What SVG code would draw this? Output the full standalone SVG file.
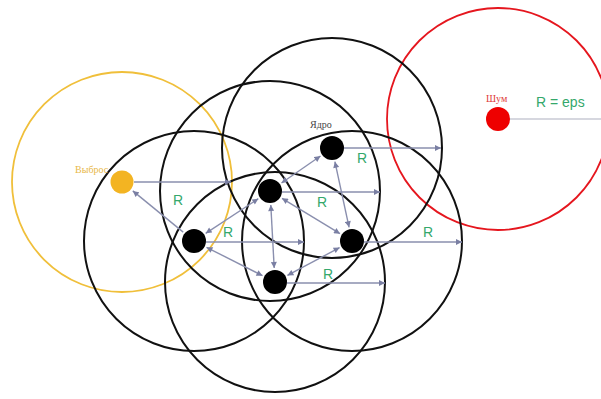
<svg xmlns="http://www.w3.org/2000/svg" width="601" height="399" viewBox="0 0 601 399">
<defs>
<marker id="ah" viewBox="0 0 10 10" refX="10" refY="5" markerUnits="userSpaceOnUse" markerWidth="7" markerHeight="6" orient="auto-start-reverse">
<path d="M0,0 L10,5 L0,10 z" fill="#7a7fa3"/>
</marker>
</defs>
<style>
.zone{fill:none;stroke:#111;stroke-width:2}
.arr{stroke:#8a8fae;stroke-width:1.4;fill:none}
.one{marker-end:url(#ah)}
.two{marker-start:url(#ah);marker-end:url(#ah)}
.core{fill:#000}
.lbl{font-family:"Liberation Serif","DejaVu Serif",serif;font-size:10px}
.r{font-family:"Liberation Sans",Arial,sans-serif;font-size:14px;fill:#35a86b;text-anchor:middle}
</style>
<rect width="601" height="399" fill="#fff"/>
<g id="zones">
<circle cx="122" cy="182" r="110" fill="none" stroke="#f0bf3a" stroke-width="1.8"/>
<circle cx="498" cy="119" r="111" fill="none" stroke="#e5161e" stroke-width="1.8"/>
<circle class="zone" cx="332" cy="148" r="110"/>
<circle class="zone" cx="270" cy="191" r="110"/>
<circle class="zone" cx="194" cy="241" r="110"/>
<circle class="zone" cx="352" cy="241" r="110"/>
<circle class="zone" cx="275" cy="282" r="110"/>
</g>
<g id="connectors">
<line class="arr one" x1="134" y1="182" x2="231" y2="182"/>
<line class="arr one" x1="344" y1="148" x2="441" y2="148"/>
<line class="arr one" x1="282" y1="192" x2="380" y2="192"/>
<line class="arr one" x1="206" y1="242" x2="304" y2="242"/>
<line class="arr one" x1="364" y1="242" x2="462" y2="242"/>
<line class="arr one" x1="287" y1="283" x2="385" y2="283"/>
<line x1="510" y1="119" x2="601" y2="119" stroke="#c8cad4" stroke-width="1.3"/>
<line class="arr one" x1="183.2" y1="232.1" x2="132.8" y2="190.9"/>
<line class="arr two" x1="205.7" y1="233.3" x2="258.3" y2="198.7"/>
<line class="arr two" x1="281.5" y1="183" x2="320.5" y2="156"/>
<line class="arr two" x1="270.8" y1="205" x2="274.2" y2="268"/>
<line class="arr two" x1="282" y1="198.3" x2="340" y2="233.7"/>
<line class="arr two" x1="334.9" y1="161.7" x2="349.1" y2="227.3"/>
<line class="arr two" x1="206.5" y1="247.3" x2="262.5" y2="275.7"/>
<line class="arr two" x1="287.4" y1="275.4" x2="339.6" y2="247.6"/>
</g>
<g id="outlier">
<circle cx="122" cy="182" r="11.5" fill="#f3b422"/>
<text class="lbl" x="75" y="173" fill="#e8b84a">Выброс</text>
</g>
<g id="noise">
<circle cx="498" cy="119" r="12" fill="#ee0000"/>
<text class="lbl" x="486" y="102" fill="#e03a3a">Шум</text>
<text x="536" y="107" font-family="Liberation Sans, Arial, sans-serif" font-size="14" fill="#35a86b">R = eps</text>
</g>
<g id="core1">
<circle class="core" cx="332" cy="148" r="12"/>
<text class="lbl" x="310" y="128" fill="#444">Ядро</text>
</g>
<g id="core2"><circle class="core" cx="270" cy="191" r="12"/></g>
<g id="core3"><circle class="core" cx="194" cy="241" r="12"/></g>
<g id="core4"><circle class="core" cx="352" cy="241" r="12"/></g>
<g id="core5"><circle class="core" cx="275" cy="282" r="12"/></g>
<g id="labels">
<text class="r" x="178" y="205">R</text>
<text class="r" x="362" y="163">R</text>
<text class="r" x="322" y="207">R</text>
<text class="r" x="228" y="237">R</text>
<text class="r" x="428" y="237">R</text>
<text class="r" x="328" y="279">R</text>
</g>
</svg>
